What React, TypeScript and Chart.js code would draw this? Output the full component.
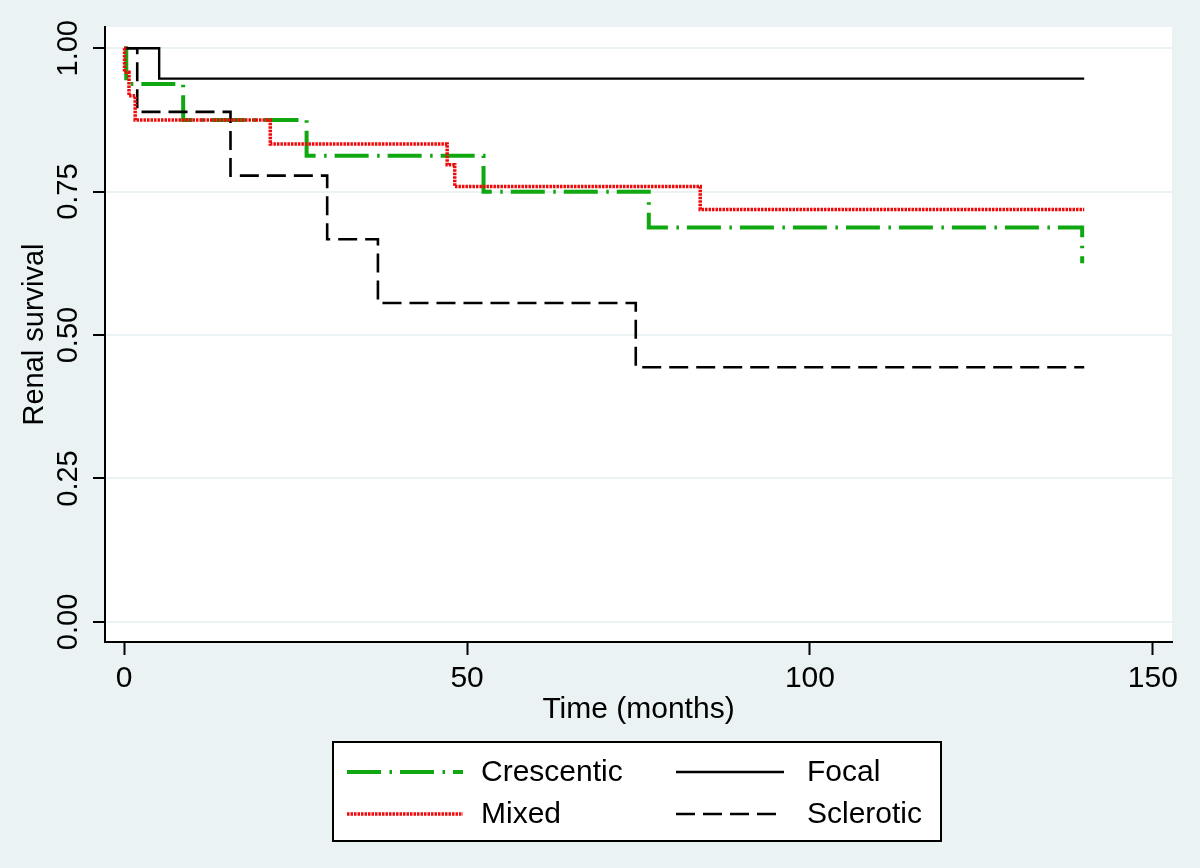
import React, { useEffect, useRef } from "react";
import { Chart, registerables } from "chart.js";

Chart.register(...registerables);

// ---- Data ----
const crescenticTime = [0, 0.3, 8.6, 26.6, 52.4, 76.5, 139.7];
const crescenticSurv = [1, 0.9375, 0.875, 0.8125, 0.75, 0.6875, 0.625];
const focalTime = [0, 5.1, 140];
const focalSurv = [1, 0.947, 0.947];
const mixedTime = [0, 0.05, 0.7, 1.6, 21.3, 47.1, 48.2, 84.0, 140];
const mixedSurv = [1, 0.958, 0.917, 0.875, 0.833, 0.797, 0.759, 0.719, 0.719];
const scleroticTime = [0, 1.9, 15.5, 29.6, 37.0, 74.6, 140];
const scleroticSurv = [1, 0.889, 0.778, 0.667, 0.556, 0.444, 0.444];

const seriesNames = ["Crescentic", "Focal", "Mixed", "Sclerotic"];
const xTicks = [0, 50, 100, 150];
const yTicks = [0, 0.25, 0.5, 0.75, 1];
const xTitle = "Time (months)";
const yTitle = "Renal survival";

const FONT = '"Liberation Sans", Arial, Helvetica, sans-serif';
const BG = "#EAF2F3";

const toPoints = (t: number[], s: number[]) => t.map((x, i) => ({ x, y: s[i] }));

const legendLayout = [
  { ds: 0, sx0: 347, sx1: 463, tx: 481, y: 772 },
  { ds: 1, sx0: 676, sx1: 784, tx: 807, y: 772 },
  { ds: 2, sx0: 347, sx1: 463, tx: 481, y: 814 },
  { ds: 3, sx0: 676, sx1: 784, tx: 807, y: 814 },
];

const decorPlugin = {
  id: "decor",
  beforeDraw(chart: any) {
    const { ctx, chartArea: a, width, height } = chart;
    ctx.save();
    ctx.fillStyle = BG;
    ctx.fillRect(0, 0, width, height);
    ctx.fillStyle = "#ffffff";
    ctx.fillRect(a.left, a.top, a.right - a.left, a.bottom - a.top);
    ctx.restore();
  },
  afterDraw(chart: any) {
    const { ctx } = chart;
    const ys = chart.scales.y;
    ctx.save();
    // y tick labels, rotated
    ctx.fillStyle = "#000";
    ctx.font = `29px ${FONT}`;
    ctx.textAlign = "center";
    ctx.textBaseline = "middle";
    yTicks.forEach((v) => {
      const py = ys.getPixelForValue(v);
      ctx.save();
      ctx.translate(69, py);
      ctx.rotate(-Math.PI / 2);
      ctx.fillText(v.toFixed(2), 0, 0);
      ctx.restore();
    });
    // legend
    ctx.fillStyle = "#fff";
    ctx.fillRect(333, 742, 608, 99);
    ctx.strokeStyle = "#000";
    ctx.lineWidth = 2;
    ctx.setLineDash([]);
    ctx.strokeRect(333, 742, 608, 99);
    legendLayout.forEach((L) => {
      const ds = chart.data.datasets[L.ds];
      ctx.save();
      ctx.strokeStyle = ds.borderColor;
      ctx.lineWidth = ds.borderWidth;
      ctx.lineCap = "butt";
      ctx.setLineDash(ds.borderDash || []);
      ctx.beginPath();
      ctx.moveTo(L.sx0, L.y);
      ctx.lineTo(L.sx1, L.y);
      ctx.stroke();
      ctx.restore();
      ctx.fillStyle = "#000";
      ctx.font = `30px ${FONT}`;
      ctx.textAlign = "left";
      ctx.textBaseline = "middle";
      ctx.fillText(seriesNames[L.ds], L.tx, L.y + 1);
    });
    ctx.restore();
  },
};

export default function App() {
  const ref = useRef<HTMLCanvasElement | null>(null);
  useEffect(() => {
    if (!ref.current) return;
    const chart = new Chart(ref.current, {
      type: "line",
      data: {
        datasets: [
          {
            label: seriesNames[0],
            data: toPoints(crescenticTime, crescenticSurv),
            borderColor: "#10A810",
            borderWidth: 4,
            borderDash: [34, 8.5, 2.5, 8],
            borderCapStyle: "butt",
            stepped: "before",
            pointRadius: 0,
            fill: false,
            order: 3,
          },
          {
            label: seriesNames[1],
            data: toPoints(focalTime, focalSurv),
            borderColor: "#000000",
            borderWidth: 2.4,
            stepped: "before",
            pointRadius: 0,
            fill: false,
            order: 1,
          },
          {
            label: seriesNames[2],
            data: toPoints(mixedTime, mixedSurv),
            borderColor: "#EE0A0A",
            borderWidth: 3.5,
            borderDash: [2.5, 1],
            borderCapStyle: "butt",
            stepped: "before",
            pointRadius: 0,
            fill: false,
            order: 0,
          },
          {
            label: seriesNames[3],
            data: toPoints(scleroticTime, scleroticSurv),
            borderColor: "#000000",
            borderWidth: 2.6,
            borderDash: [19, 8],
            borderCapStyle: "butt",
            stepped: "before",
            pointRadius: 0,
            fill: false,
            order: 2,
          },
        ],
      },
      options: {
        responsive: false,
        animation: false,
        devicePixelRatio: 1,
        layout: { padding: { left: 0, top: 27, right: 28, bottom: 0 } },
        plugins: {
          legend: { display: false },
          tooltip: { enabled: false },
          title: { display: false },
        },
        scales: {
          x: {
            type: "linear",
            min: -2.8,
            max: 152.8,
            afterBuildTicks: (s: any) => {
              s.ticks = xTicks.map((v) => ({ value: v }));
            },
            afterFit: (s: any) => {
              s.height = 226;
            },
            grid: {
              drawOnChartArea: false,
              drawTicks: true,
              tickLength: 13,
              tickColor: "#000",
              tickWidth: 2,
            },
            border: { display: true, color: "#000", width: 2 },
            ticks: {
              color: "#000",
              font: { family: FONT, size: 30 },
              padding: 6,
              maxRotation: 0,
              minRotation: 0,
              callback: (v: any) => String(v),
            },
            title: {
              display: true,
              text: xTitle,
              color: "#000",
              font: { family: FONT, size: 30 },
              padding: { top: 0, bottom: 140 },
            },
          },
          y: {
            type: "linear",
            min: -0.035,
            max: 1.037,
            afterBuildTicks: (s: any) => {
              s.ticks = yTicks.map((v) => ({ value: v }));
            },
            afterFit: (s: any) => {
              s.width = 105;
            },
            grid: {
              drawOnChartArea: true,
              color: BG,
              lineWidth: 2,
              drawTicks: true,
              tickLength: 12,
              tickColor: "#000",
              tickWidth: 2,
            },
            border: { display: true, color: "#000", width: 2 },
            ticks: { display: false },
            title: {
              display: true,
              text: yTitle,
              color: "#000",
              font: { family: FONT, size: 29 },
              padding: { top: 18, bottom: 0 },
            },
          },
        },
      },
      plugins: [decorPlugin],
    } as any);
    return () => chart.destroy();
  }, []);
  return (
    <div style={{ position: "fixed", left: 0, top: 0, width: 1200, height: 868 }}>
      <canvas ref={ref} width={1200} height={868} />
    </div>
  );
}
